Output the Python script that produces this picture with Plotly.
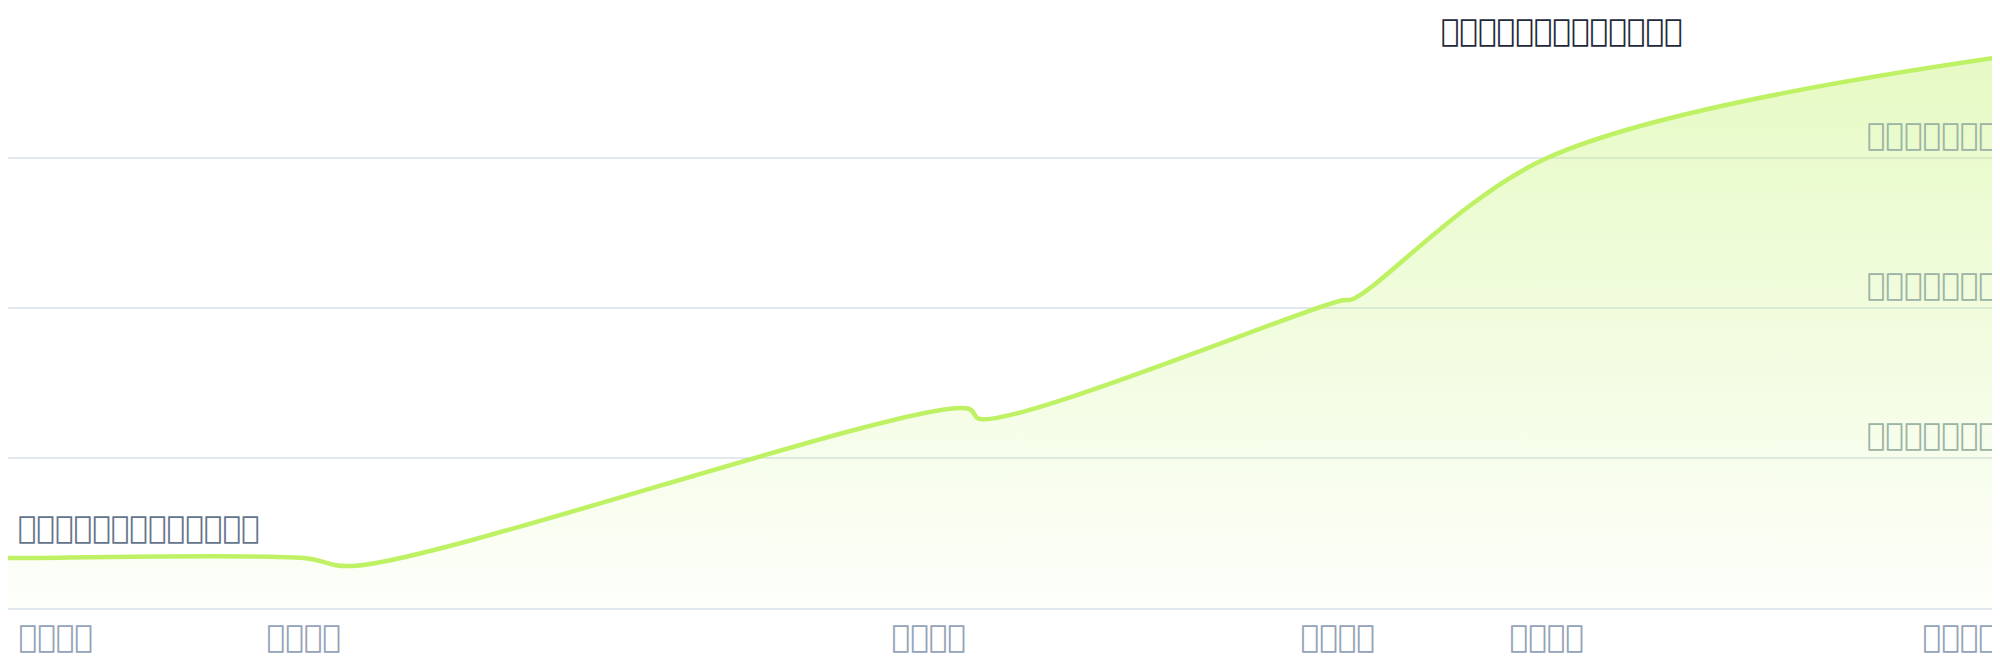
import plotly.graph_objects as go
import pandas as pd

# dữ liệu
dates = pd.to_datetime([
    "2019-01-01", "2019-01-15", "2019-10-24", "2019-12-11", "2021-08-18",
    "2021-08-30", "2022-08-26", "2022-09-07", "2023-03-20", "2024-06-23",
])
values = [0.333, 0.333, 0.333, 0.28, 1.33, 1.26, 2.05, 2.06, 3.0, 3.68]

tick_dates = pd.to_datetime([
    "2019-02-18", "2019-10-24", "2021-07-10", "2022-08-23", "2023-03-20", "2024-05-06",
])
tick_text = ["\ue000\ue001\ue002\ue003", "\ue004\ue005\ue006\ue007", "\ue008\ue009\ue00a\ue00b",
             "\ue00c\ue00d\ue00e\ue00f", "\ue010\ue011\ue012\ue013", "\ue014\ue015\ue016\ue017"]

y_ticks = [1, 2, 3]
y_text = ["\ue020\ue021\ue022\ue023\ue024\ue025\ue026",
          "\ue027\ue028\ue029\ue02a\ue02b\ue02c\ue02d",
          "\ue02e\ue02f\ue030\ue031\ue032\ue033\ue034"]

title_text = "\ue040\ue041\ue042\ue043\ue044\ue045\ue046\ue047\ue048\ue049\ue04a\ue04b\ue04c"
start_text = "\ue050\ue051\ue052\ue053\ue054\ue055\ue056\ue057\ue058\ue059\ue05a\ue05b\ue05c"

fig = go.Figure()
fig.add_trace(go.Scatter(
    x=dates, y=values, mode="lines",
    line=dict(color="#bef264", width=4.5, shape="spline", smoothing=1),
    fill="tozeroy",
    fillgradient=dict(type="vertical", start=0, stop=max(values),
                      colorscale=[[0, "rgba(190,242,100,0.03)"], [1, "rgba(190,242,100,0.38)"]]),
    hoverinfo="skip",
))

# nhãn trục y đặt bên trong, phía trên đường lưới
for v, t in zip(y_ticks, y_text):
    fig.add_annotation(text=t, xref="paper", yref="y", x=1, y=v, xanchor="right", yanchor="bottom",
                       xshift=-9, yshift=4, showarrow=False, font=dict(size=31, color="#9cb3a6"))

# tiêu đề góc phải và nhãn điểm đầu
fig.add_annotation(text=title_text, xref="paper", yref="paper", x=0.777, y=1 - 22 / 600,
                   xanchor="center", yanchor="middle",
                   showarrow=False, font=dict(size=31, color="#1e293b"))
fig.add_annotation(text=start_text, xref="paper", yref="paper", x=0.004, y=(600 - 519) / 600,
                   xanchor="left", yanchor="middle", showarrow=False, font=dict(size=31, color="#64748b"))

fig.update_layout(
    width=2000, height=660,
    margin=dict(l=0, r=0, t=0, b=60),
    paper_bgcolor="white", plot_bgcolor="white",
    showlegend=False,
    font=dict(family="DejaVu Sans", size=31),
    xaxis=dict(
        range=[dates[0], dates[-1]],
        tickvals=tick_dates, ticktext=tick_text,
        showgrid=False, showline=True, linecolor="#e2e8f0", linewidth=2,
        tickfont=dict(color="#94a3b8", size=31), ticks="",
        ticklabeloverflow="allow",
    ),
    yaxis=dict(
        range=[0, 4], side="right",
        tickvals=y_ticks, showticklabels=False,
        gridcolor="#e2e8f0", gridwidth=1.5,
        zeroline=False,
    ),
)

fig.write_html("out.html")
